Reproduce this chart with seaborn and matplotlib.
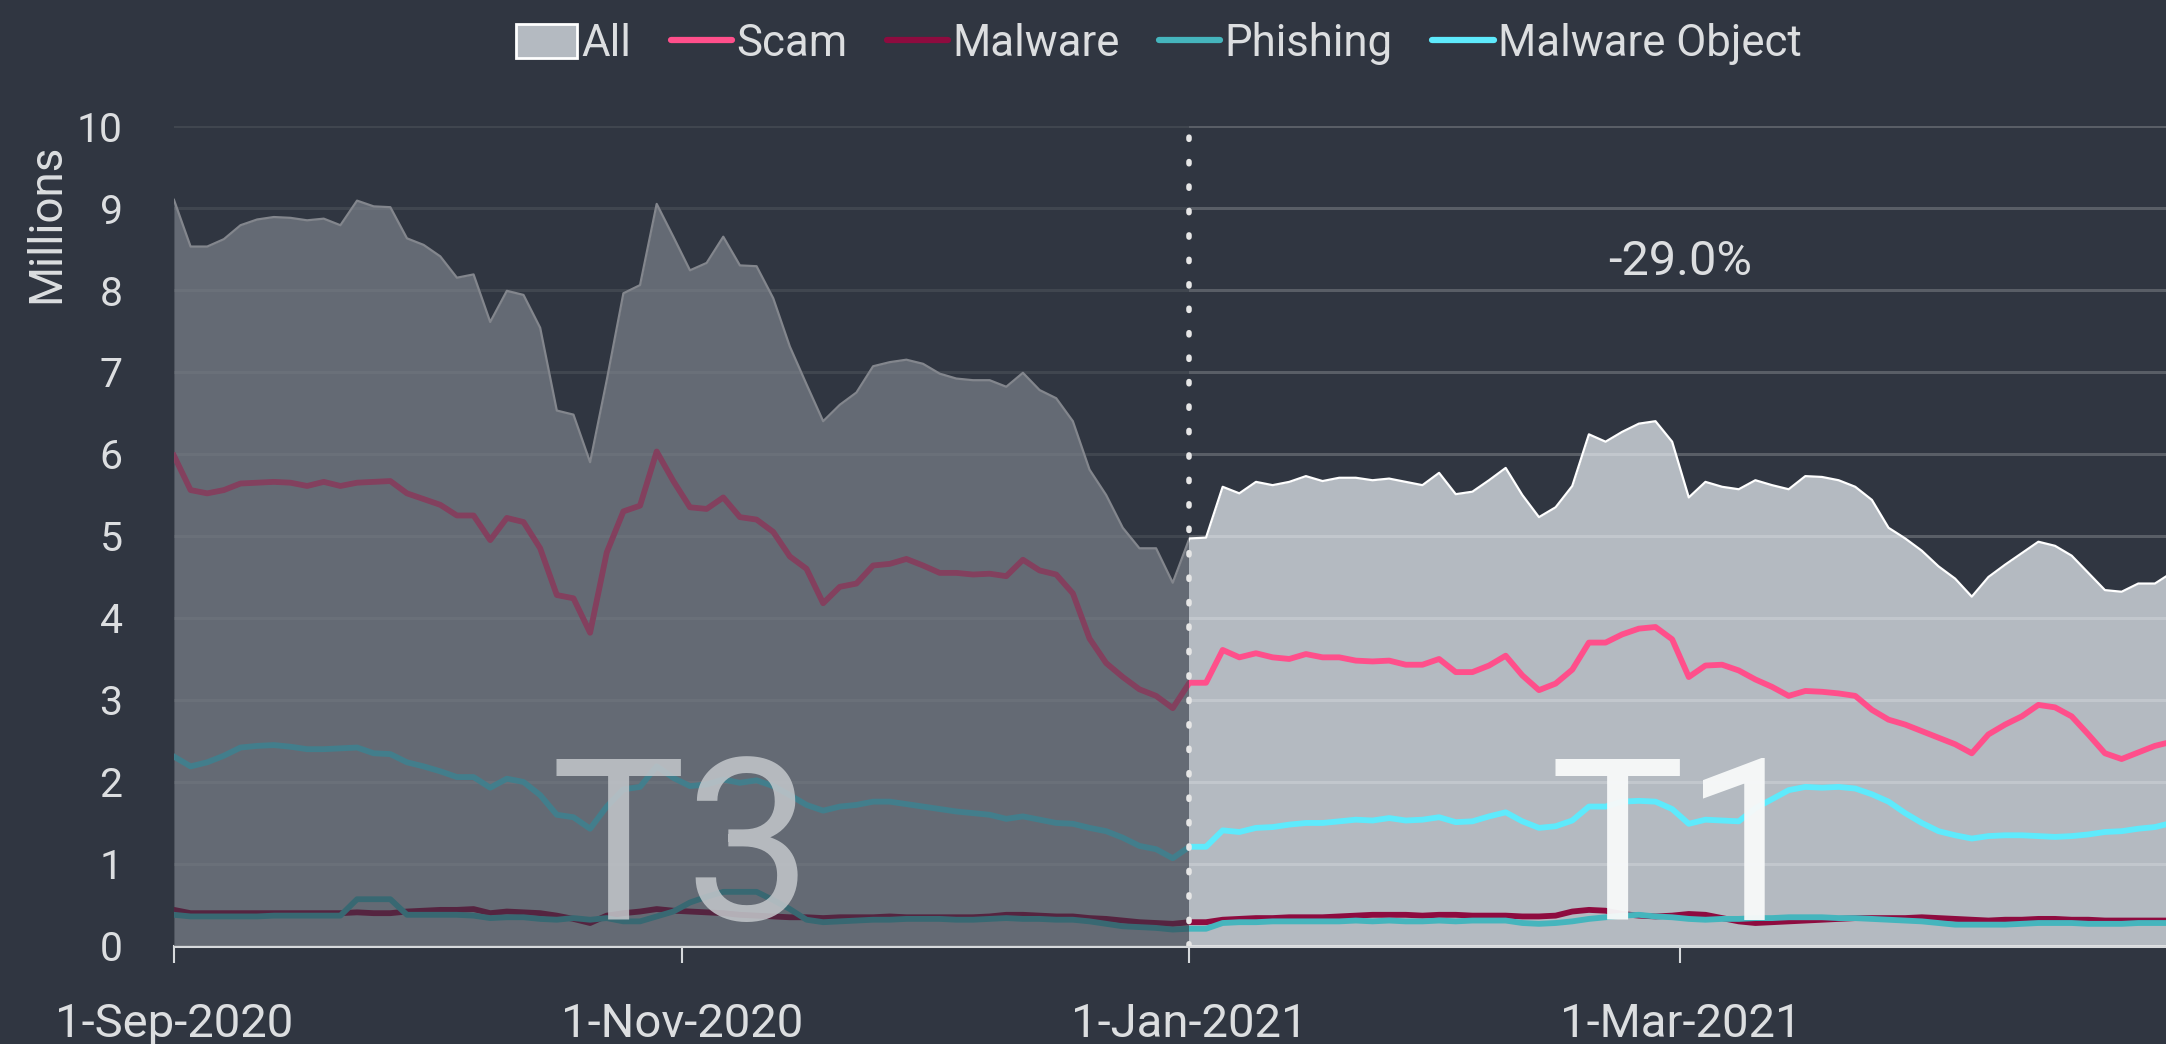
import matplotlib
matplotlib.use("Agg")
import matplotlib.pyplot as plt
import matplotlib.dates as mdates
from matplotlib.patches import Patch
from matplotlib.lines import Line2D
from matplotlib.ticker import FuncFormatter
import seaborn as sns
import pandas as pd

BG = "#303641"
TXT = "#dcdee0"
AREA = "#b4bac1"
COLORS = {"Scam": "#ff4f8b", "Malware": "#8e0b3f",
          "Phishing": "#45b5bd", "Malware Object": "#5eeafc"}

# one reading every second day, starting 1-Sep-2020
dates = pd.date_range("2020-09-01", periods=121, freq="2D")

all_vals = [
    9.10, 8.53, 8.53, 8.62, 8.79, 8.86, 8.89, 8.88, 8.85, 8.87,
    8.79, 9.09, 9.02, 9.01, 8.63, 8.55, 8.41, 8.15, 8.19, 7.61,
    7.99, 7.94, 7.54, 6.53, 6.48, 5.90, 6.90, 7.96, 8.06, 9.05,
    8.65, 8.24, 8.33, 8.65, 8.30, 8.29, 7.90, 7.31, 6.85, 6.40,
    6.60, 6.75, 7.07, 7.12, 7.15, 7.10, 6.98, 6.92, 6.90, 6.90,
    6.82, 6.99, 6.78, 6.68, 6.40, 5.81, 5.50, 5.10, 4.85, 4.85,
    4.43, 4.97, 4.98, 5.60, 5.52, 5.66, 5.62, 5.66, 5.73, 5.67,
    5.71, 5.71, 5.68, 5.70, 5.66, 5.62, 5.77, 5.51, 5.54, 5.68,
    5.83, 5.50, 5.23, 5.35, 5.61, 6.24, 6.15, 6.27, 6.37, 6.40,
    6.15, 5.47, 5.66, 5.60, 5.57, 5.68, 5.62, 5.57, 5.73, 5.72,
    5.68, 5.60, 5.44, 5.10, 4.97, 4.82, 4.63, 4.48, 4.26, 4.50,
    4.65, 4.79, 4.93, 4.88, 4.76, 4.55, 4.34, 4.32, 4.42, 4.42,
    4.55,
]
scam = [
    5.98, 5.56, 5.52, 5.56, 5.64, 5.65, 5.66, 5.65, 5.61, 5.66,
    5.61, 5.65, 5.66, 5.67, 5.52, 5.45, 5.38, 5.25, 5.25, 4.95,
    5.22, 5.17, 4.85, 4.28, 4.24, 3.82, 4.80, 5.30, 5.37, 6.03,
    5.67, 5.35, 5.33, 5.47, 5.23, 5.20, 5.05, 4.75, 4.60, 4.18,
    4.38, 4.42, 4.64, 4.66, 4.72, 4.64, 4.55, 4.55, 4.53, 4.54,
    4.51, 4.71, 4.58, 4.53, 4.30, 3.75, 3.45, 3.28, 3.13, 3.05,
    2.90, 3.21, 3.21, 3.61, 3.52, 3.57, 3.52, 3.50, 3.56, 3.52,
    3.52, 3.48, 3.47, 3.48, 3.43, 3.43, 3.50, 3.34, 3.34, 3.42,
    3.54, 3.30, 3.12, 3.20, 3.37, 3.70, 3.70, 3.80, 3.87, 3.89,
    3.74, 3.28, 3.42, 3.43, 3.36, 3.25, 3.16, 3.05, 3.11, 3.10,
    3.08, 3.05, 2.88, 2.76, 2.70, 2.62, 2.54, 2.46, 2.35, 2.58,
    2.70, 2.80, 2.94, 2.91, 2.80, 2.58, 2.35, 2.28, 2.36, 2.44,
    2.49,
]
malware = [
    0.44, 0.40, 0.40, 0.40, 0.40, 0.40, 0.40, 0.40, 0.40, 0.40,
    0.40, 0.41, 0.40, 0.40, 0.42, 0.43, 0.44, 0.44, 0.45, 0.40,
    0.42, 0.41, 0.40, 0.37, 0.33, 0.28, 0.37, 0.40, 0.42, 0.45,
    0.43, 0.42, 0.41, 0.40, 0.38, 0.37, 0.36, 0.35, 0.35, 0.34,
    0.35, 0.35, 0.35, 0.36, 0.35, 0.35, 0.35, 0.35, 0.35, 0.36,
    0.38, 0.38, 0.37, 0.36, 0.36, 0.34, 0.33, 0.31, 0.29, 0.28,
    0.27, 0.29, 0.29, 0.32, 0.33, 0.34, 0.34, 0.35, 0.35, 0.35,
    0.36, 0.37, 0.38, 0.38, 0.38, 0.37, 0.38, 0.38, 0.37, 0.37,
    0.37, 0.36, 0.36, 0.37, 0.42, 0.44, 0.43, 0.39, 0.37, 0.36,
    0.37, 0.39, 0.38, 0.34, 0.30, 0.28, 0.29, 0.30, 0.31, 0.32,
    0.33, 0.34, 0.34, 0.34, 0.34, 0.35, 0.34, 0.33, 0.32, 0.31,
    0.32, 0.32, 0.33, 0.33, 0.32, 0.32, 0.31, 0.31, 0.31, 0.31,
    0.31,
]
phishing = [
    0.38, 0.36, 0.36, 0.36, 0.36, 0.36, 0.37, 0.37, 0.37, 0.37,
    0.37, 0.57, 0.57, 0.57, 0.38, 0.38, 0.38, 0.38, 0.37, 0.34,
    0.35, 0.35, 0.33, 0.32, 0.34, 0.32, 0.34, 0.30, 0.30, 0.36,
    0.42, 0.53, 0.60, 0.66, 0.66, 0.66, 0.56, 0.45, 0.32, 0.29,
    0.30, 0.31, 0.32, 0.32, 0.33, 0.33, 0.33, 0.32, 0.32, 0.33,
    0.34, 0.33, 0.33, 0.32, 0.32, 0.30, 0.27, 0.24, 0.23, 0.22,
    0.20, 0.21, 0.21, 0.28, 0.29, 0.29, 0.30, 0.30, 0.30, 0.30,
    0.30, 0.31, 0.30, 0.31, 0.30, 0.30, 0.31, 0.30, 0.31, 0.31,
    0.31, 0.28, 0.27, 0.28, 0.30, 0.33, 0.35, 0.37, 0.38, 0.36,
    0.35, 0.33, 0.32, 0.33, 0.33, 0.34, 0.34, 0.35, 0.35, 0.35,
    0.34, 0.34, 0.33, 0.32, 0.31, 0.30, 0.28, 0.26, 0.26, 0.26,
    0.26, 0.27, 0.28, 0.28, 0.28, 0.27, 0.27, 0.27, 0.28, 0.28,
    0.28,
]
malware_object = [
    2.31, 2.19, 2.24, 2.32, 2.42, 2.44, 2.45, 2.43, 2.40, 2.40,
    2.41, 2.42, 2.35, 2.34, 2.24, 2.19, 2.13, 2.06, 2.06, 1.93,
    2.04, 2.00, 1.84, 1.60, 1.57, 1.43, 1.70, 1.91, 1.94, 2.19,
    2.05, 1.95, 1.97, 2.03, 1.99, 2.02, 1.95, 1.84, 1.72, 1.65,
    1.70, 1.72, 1.76, 1.76, 1.73, 1.70, 1.67, 1.64, 1.62, 1.60,
    1.55, 1.58, 1.54, 1.50, 1.49, 1.44, 1.40, 1.32, 1.22, 1.18,
    1.07, 1.21, 1.21, 1.41, 1.39, 1.44, 1.45, 1.48, 1.50, 1.50,
    1.52, 1.54, 1.53, 1.56, 1.53, 1.54, 1.57, 1.51, 1.52, 1.58,
    1.63, 1.52, 1.44, 1.46, 1.53, 1.70, 1.70, 1.76, 1.77, 1.76,
    1.67, 1.49, 1.54, 1.53, 1.52, 1.68, 1.79, 1.90, 1.94, 1.93,
    1.94, 1.92, 1.85, 1.76, 1.62, 1.50, 1.40, 1.35, 1.31, 1.34,
    1.35, 1.35, 1.34, 1.33, 1.34, 1.36, 1.39, 1.40, 1.43, 1.45,
    1.50,
]

period_start = pd.Timestamp("2020-09-01")
period_split = pd.Timestamp("2021-01-01")
x_end = pd.Timestamp("2021-04-28 08:00")
change_label = "-29.0%"

df = pd.DataFrame({"date": dates, "Scam": scam, "Malware": malware,
                   "Phishing": phishing, "Malware Object": malware_object})
long = df.melt(id_vars="date", var_name="series", value_name="value")

plt.rcParams["font.family"] = ["Roboto", "DejaVu Sans"]

fig = plt.figure(figsize=(21.66, 10.44), dpi=100, facecolor=BG)
ax = fig.add_axes([0.0803, 0.0939, 0.9197, 0.7854])
ax.set_facecolor(BG)

# "All" area
ax.fill_between(dates, all_vals, color=AREA, lw=0, zorder=1)
ax.plot(dates, all_vals, color="white", lw=1.6, zorder=1.2)

sns.lineplot(data=long, x="date", y="value", hue="series",
             hue_order=list(COLORS), palette=COLORS, linewidth=4.2,
             legend=False, ax=ax, zorder=3)

ax.set_xlim(period_start, x_end)
ax.set_ylim(0, 10)
ax.set_yticks(range(0, 11))
ax.set_axisbelow(False)
ax.grid(axis="y", color="white", alpha=0.2, lw=2.2, zorder=2)
ax.grid(axis="x", visible=False)

# darken the earlier period
ax.axvspan(period_start, period_split, color=BG, alpha=0.6, lw=0, zorder=4)
ax.plot([period_split, period_split], [0, 10], color="#e6e6e6", lw=4,
        linestyle=(0, (0.4, 4.0)), dash_capstyle="round", zorder=5)

ax.text(pd.Timestamp("2020-11-01"), 0.32, "T3", fontsize=163, color="#c4c8cc",
        alpha=0.85, ha="center", va="baseline", zorder=6)
ax.text(pd.Timestamp("2021-03-01"), 0.32, "T1", fontsize=163, color="#f7f9f9",
        alpha=0.96, ha="center", va="baseline", zorder=6)
ax.text(pd.Timestamp("2021-03-01"), 8.34, change_label, fontsize=35, color=TXT,
        ha="center", va="center", zorder=6)

for s in ["top", "right", "left"]:
    ax.spines[s].set_visible(False)
ax.spines["bottom"].set_color("#d6d9dc")
ax.spines["bottom"].set_linewidth(2.2)

ax.xaxis.set_major_locator(mdates.MonthLocator(interval=2))
ax.xaxis.set_major_formatter(FuncFormatter(
    lambda v, p: (lambda d: f"{d.day}-{d:%b}-{d.year}")(mdates.num2date(v))))
ax.tick_params(axis="x", colors=TXT, labelsize=34, length=12, width=1.5,
               pad=28, color="#d6d9dc")
ax.tick_params(axis="y", colors=TXT, labelsize=29.5, length=0, pad=37)
ax.set_xlabel("")
ax.set_ylabel("")
fig.text(46 / 2166, 1 - 223 / 1044, "Millions", rotation=90, color=TXT,
         fontsize=33, ha="center", va="center")

handles = [Patch(facecolor=AREA, edgecolor="white", lw=2)]
handles += [Line2D([], [], color=c, lw=4.5, solid_capstyle="round")
            for c in COLORS.values()]
labels = ["All"] + list(COLORS)
fig.legend(handles, labels, loc="center", bbox_to_anchor=(0.535, 0.958),
           ncol=5, frameon=False, fontsize=31.5, labelcolor=TXT,
           handlelength=1.4, handleheight=0.8, handletextpad=0.1,
           columnspacing=0.9)

fig.savefig("out.png", dpi=100, facecolor=BG)
